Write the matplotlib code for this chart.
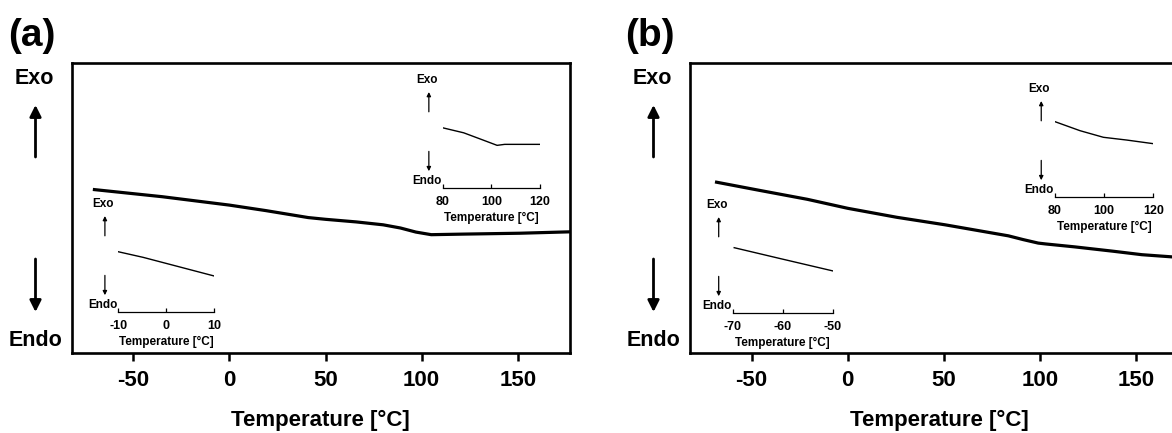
import matplotlib
matplotlib.use("Agg")
import matplotlib.pyplot as plt

plt.rcParams['font.family'] = ['Liberation Sans', 'DejaVu Sans']
plt.rcParams['font.weight'] = 'bold'

# ---------------- data ----------------
main_ticks = [-50, 0, 50, 100, 150]
xlim_main = (-82, 177)

# panel (a) main DSC trace (normalised heat flow, arbitrary units)
a_main_x = [-71, -35, 0, 19, 41, 50, 66, 80, 89, 97, 105, 122, 151, 178]
a_main_y = [0.564, 0.539, 0.510, 0.491, 0.467, 0.461, 0.452, 0.442, 0.431,
            0.417, 0.408, 0.410, 0.413, 0.418]
# panel (a) insets
a_hi_x = [80, 88.7, 96.3, 102.4, 105.5, 120]
a_hi_y = [0.545, 0.499, 0.436, 0.385, 0.394, 0.394]
a_hi_ticks = [80, 100, 120]
a_lo_x = [-10, -4.8, 10]
a_lo_y = [0.545, 0.494, 0.325]
a_lo_ticks = [-10, 0, 10]

# panel (b) main DSC trace
b_main_x = [-69, -46, -21, 0, 25.5, 50.7, 75.8, 83.6, 91.3, 99.1, 103, 118,
            138, 153, 178]
b_main_y = [0.590, 0.561, 0.530, 0.499, 0.468, 0.442, 0.413, 0.404, 0.391,
            0.379, 0.376, 0.366, 0.351, 0.339, 0.327]
# panel (b) insets
b_hi_x = [80, 90.2, 99.7, 109.2, 120]
b_hi_y = [0.682, 0.600, 0.540, 0.515, 0.482]
b_hi_ticks = [80, 100, 120]
b_lo_x = [-69.7, -60.5, -49.9]
b_lo_y = [0.591, 0.492, 0.379]
b_lo_ticks = [-70, -60, -50]

xlabel = "Temperature [°C]"

# ---------------- layout helpers ----------------
W, H = 1172, 433
fig = plt.figure(figsize=(W / 100, H / 100), dpi=100)


def box(x0, x1, ytop, ybot):
    return [x0 / W, (H - ybot) / H, (x1 - x0) / W, (ybot - ytop) / H]


def fx(x):
    return x / W


def fy(y):
    return 1 - y / H


def main_panel(x0, x1, xs, ys, letter, letter_x):
    ax = fig.add_axes(box(x0, x1, 63, 353))
    ax.plot(xs, ys, color='black', lw=2.3, solid_capstyle='butt')
    ax.set_xlim(*xlim_main)
    ax.set_ylim(0, 1)
    ax.set_yticks([])
    ax.set_xticks(main_ticks)
    ax.set_xticklabels([str(t) for t in main_ticks], fontsize=16,
                       fontweight='bold')
    ax.tick_params(axis='x', direction='out', length=6, width=1.8, pad=6)
    for s in ax.spines.values():
        s.set_linewidth(1.9)
    ax.set_xlabel(xlabel, fontsize=16, fontweight='bold', labelpad=14)
    fig.text(fx(letter_x), fy(36), letter, fontsize=28, fontweight='bold',
             ha='left', va='center')
    return ax


def side_labels(cx):
    fig.text(fx(cx), fy(78), "Exo", fontsize=15.5, fontweight='bold',
             ha='center', va='center')
    fig.text(fx(cx + 1), fy(340), "Endo", fontsize=15.5, fontweight='bold',
             ha='center', va='center')
    ap = dict(arrowstyle='-|>', color='black', lw=2.0, mutation_scale=17,
              shrinkA=0, shrinkB=0)
    fig.add_artist(matplotlib.patches.FancyArrowPatch(
        (fx(cx + 1.5), fy(157)), (fx(cx + 1.5), fy(105)),
        transform=fig.transFigure, **ap))
    fig.add_artist(matplotlib.patches.FancyArrowPatch(
        (fx(cx + 1.5), fy(259)), (fx(cx + 1.5), fy(312)),
        transform=fig.transFigure, **ap))


def inset(x0, x1, ybot, xs, ys, ticks):
    ax = fig.add_axes(box(x0, x1, ybot - 110, ybot))
    ax.patch.set_alpha(0)
    ax.plot(xs, ys, color='black', lw=1.0)
    ax.set_xlim(ticks[0], ticks[-1])
    ax.set_ylim(0, 1)
    for k in ('top', 'right', 'left'):
        ax.spines[k].set_visible(False)
    ax.spines['bottom'].set_linewidth(0.9)
    ax.set_yticks([])
    ax.set_xticks(ticks)
    ax.set_xticklabels([str(t) for t in ticks], fontsize=9, fontweight='bold')
    ax.tick_params(axis='x', direction='in', length=3, width=0.9, pad=6)
    ax.set_xlabel(xlabel, fontsize=8.5, fontweight='bold', labelpad=3)
    ax.text(-0.16, 0.98, "Exo", transform=ax.transAxes, fontsize=8.5,
            fontweight='bold', ha='center', va='center')
    ax.text(-0.16, 0.065, "Endo", transform=ax.transAxes, fontsize=8.5,
            fontweight='bold', ha='center', va='center')
    ap = dict(arrowstyle='-|>', color='black', lw=0.9, mutation_scale=6,
              shrinkA=0, shrinkB=0)
    ax.annotate('', xy=(-0.14, 0.87), xytext=(-0.14, 0.69),
                xycoords='axes fraction', textcoords='axes fraction',
                arrowprops=ap, annotation_clip=False)
    ax.annotate('', xy=(-0.14, 0.15), xytext=(-0.14, 0.33),
                xycoords='axes fraction', textcoords='axes fraction',
                arrowprops=ap, annotation_clip=False)
    return ax


# ---------------- panel (a) ----------------
main_panel(71.7, 569.7, a_main_x, a_main_y, "(a)", 8)
side_labels(34)
inset(442.5, 540, 187.7, a_hi_x, a_hi_y, a_hi_ticks)
inset(118.3, 214, 311.7, a_lo_x, a_lo_y, a_lo_ticks)

# ---------------- panel (b) ----------------
main_panel(690, 1188, b_main_x, b_main_y, "(b)", 625)
side_labels(652)
inset(1055, 1153.3, 196.7, b_hi_x, b_hi_y, b_hi_ticks)
inset(732.7, 832.7, 312.7, b_lo_x, b_lo_y, b_lo_ticks)

fig.savefig("out.png", dpi=100)
